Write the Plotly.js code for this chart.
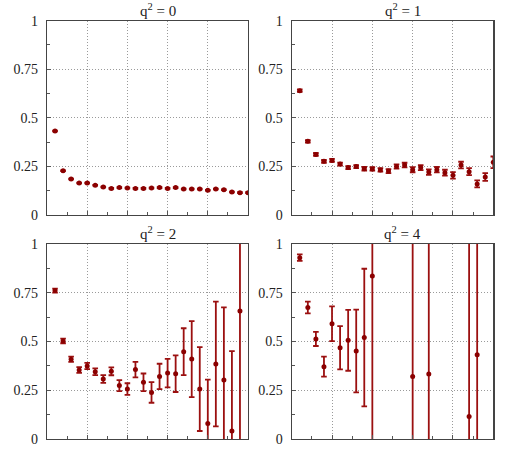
<!DOCTYPE html>
<html>
<head>
<meta charset="utf-8">
<script src="https://cdn.plot.ly/plotly-3.0.1.min.js"></script>
<style>html,body{margin:0;padding:0;background:#fff;}#chart{width:515px;height:455px;}</style>
</head>
<body>
<div id="chart"></div>
<script>
// Panel titles
const panelTitles = ["q<sup>2</sup> = 0", "q<sup>2</sup> = 1", "q<sup>2</sup> = 2", "q<sup>2</sup> = 4"];
const yTickVals = [0, 0.25, 0.5, 0.75, 1];
const yTickText = ["0", "0.25", "0.5", "0.75", "1"];

// q^2 = 0
const x0 = [1,2,3,4,5,6,7,8,9,10,11,12,13,14,15,16,17,18,19,20,21,22,23,24,25];
const y0 = [0.432,0.228,0.185,0.165,0.165,0.153,0.144,0.137,0.141,0.139,0.137,0.137,0.139,0.141,0.137,0.141,0.134,0.134,0.134,0.127,0.134,0.130,0.118,0.115,0.115];
const e0 = [0.002,0.002,0.002,0.002,0.002,0.002,0.002,0.002,0.002,0.002,0.002,0.002,0.002,0.002,0.002,0.002,0.002,0.002,0.002,0.002,0.002,0.002,0.002,0.002,0.002];

// q^2 = 1
const x1 = [1,2,3,4,5,6,7,8,9,10,11,12,13,14,15,16,17,18,19,20,21,22,23,24,25];
const y1 = [0.640,0.379,0.312,0.276,0.281,0.262,0.244,0.249,0.238,0.237,0.232,0.226,0.250,0.257,0.233,0.244,0.221,0.233,0.218,0.204,0.257,0.223,0.160,0.196,0.271];
const e1 = [0.006,0.006,0.007,0.007,0.008,0.008,0.008,0.008,0.009,0.009,0.009,0.010,0.011,0.012,0.013,0.013,0.014,0.014,0.015,0.017,0.017,0.018,0.018,0.020,0.030];

// q^2 = 2
const x2 = [1,2,3,4,5,6,7,8,9,10,11,12,13,14,15,16,17,18,19,20,21,22,23,24];
const y2 = [0.761,0.503,0.409,0.354,0.374,0.345,0.308,0.347,0.274,0.256,0.356,0.291,0.239,0.321,0.338,0.335,0.448,0.410,0.256,0.080,0.385,0.303,0.041,0.656];
const e2 = [0.010,0.012,0.013,0.015,0.016,0.017,0.020,0.020,0.028,0.030,0.040,0.045,0.053,0.065,0.073,0.094,0.120,0.195,0.215,0.225,0.320,0.372,0.410,0.800];

// q^2 = 4
const x3 = [1,2,3,4,5,6,7,8,9,10,15,17,22,23];
const y3 = [0.930,0.674,0.513,0.371,0.591,0.468,0.506,0.451,0.520,0.836,0.320,0.333,0.116,0.432];
const e3 = [0.017,0.030,0.036,0.051,0.089,0.111,0.156,0.212,0.353,1.000,0.900,0.900,1.200,0.800];

const xs = [x0, x1, x2, x3];
const ys = [y0, y1, y2, y3];
const es = [e0, e1, e2, e3];

const red = "#8b0000";
const data = xs.map((x, i) => ({
  type: "scatter", mode: "markers",
  x: x, y: ys[i],
  xaxis: i === 0 ? "x" : "x" + (i + 1),
  yaxis: i === 0 ? "y" : "y" + (i + 1),
  marker: {color: red, size: 5, symbol: "circle"},
  error_y: {type: "data", array: es[i], visible: true, color: "#9b1010", thickness: 1.8, width: 2.8},
  showlegend: false, hoverinfo: "skip"
}));

const W = 515, H = 455;
const colDom = [[47 / W, 248 / W], [291.7 / W, 493.3 / W]];
const rowDom = [[1 - 215 / H, 1 - 20.7 / H], [1 - 439 / H, 1 - 244 / H]];
const font = {family: "'Liberation Serif', 'DejaVu Serif', serif", size: 14, color: "#222"};
const titleFont = {family: "'Liberation Serif', 'DejaVu Serif', serif", size: 15, color: "#222"};

const layout = {
  width: W, height: H,
  margin: {l: 0, r: 0, t: 0, b: 0},
  paper_bgcolor: "#fff", plot_bgcolor: "#fff",
  font: font,
  annotations: [],
  showlegend: false
};

for (let i = 0; i < 4; i++) {
  const c = i % 2, r = Math.floor(i / 2);
  const xk = i === 0 ? "xaxis" : "xaxis" + (i + 1);
  const yk = i === 0 ? "yaxis" : "yaxis" + (i + 1);
  const yref = i === 0 ? "y" : "y" + (i + 1);
  const xref = i === 0 ? "x" : "x" + (i + 1);
  layout[xk] = {
    domain: colDom[c], anchor: yref, range: [0, 25],
    tickmode: "linear", tick0: 0, dtick: 5, showticklabels: false,
    ticks: "inside", ticklen: 4, tickcolor: "#555", tickwidth: 1,
    minor: {dtick: 2.5, tick0: 0, ticks: "inside", ticklen: 3, tickcolor: "#555", showgrid: false},
    showgrid: true, gridcolor: "#9a9a9a", griddash: "1px,2px", gridwidth: 1,
    showline: true, mirror: true, linecolor: "#444", linewidth: 1.2,
    zeroline: false, fixedrange: true
  };
  layout[yk] = {
    domain: rowDom[r], anchor: xref, range: [0, 1],
    tickmode: "array", tickvals: yTickVals, ticktext: yTickText,
    ticks: "inside", ticklen: 4, tickcolor: "#555", tickwidth: 1,
    minor: {tickvals: [0.125, 0.375, 0.625, 0.875], ticks: "inside", ticklen: 3, tickcolor: "#555", showgrid: false},
    showgrid: true, gridcolor: "#9a9a9a", griddash: "1px,2px", gridwidth: 1,
    showline: true, mirror: true, linecolor: "#444", linewidth: 1.2,
    zeroline: false, tickfont: font, ticklabelstandoff: 5, fixedrange: true
  };
  layout.annotations.push({
    text: panelTitles[i], xref: "paper", yref: "paper",
    x: (colDom[c][0] + colDom[c][1]) / 2, y: rowDom[r][1],
    xanchor: "center", yanchor: "bottom", xshift: 10, yshift: 0,
    showarrow: false, font: titleFont
  });
}

Plotly.newPlot("chart", data, layout, {staticPlot: true, displayModeBar: false});
</script>
</body>
</html>
